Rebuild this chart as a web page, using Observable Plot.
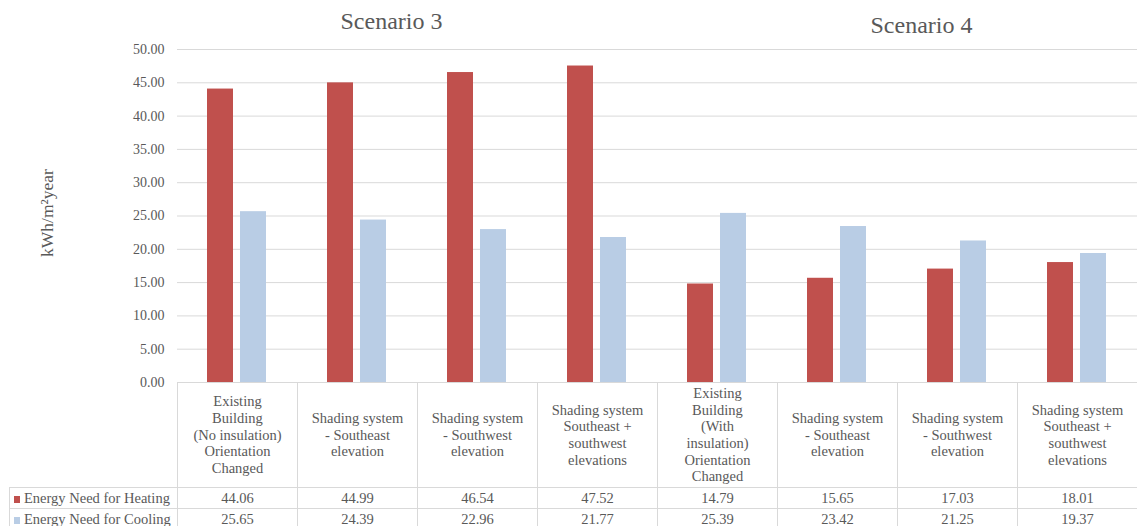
<!DOCTYPE html>
<html><head><meta charset="utf-8">
<script src="https://cdn.jsdelivr.net/npm/d3@7"></script>
<script src="https://cdn.jsdelivr.net/npm/@observablehq/plot@0.6"></script>
<style>
html,body{margin:0;padding:0;background:#fff;overflow:hidden;}
#wrap{position:relative;width:1137px;height:526px;overflow:hidden;font-family:"Liberation Serif","Times New Roman","DejaVu Serif",serif;color:#595959;}
#wrap svg{position:absolute;left:0;top:0;}
table{position:absolute;border-collapse:collapse;table-layout:fixed;font-size:14.5px;font-family:"Liberation Serif","Times New Roman","DejaVu Serif",serif;color:#595959;}
td{border:1px solid #d9d9d9;padding:0;text-align:center;white-space:pre-line;line-height:16.7px;overflow:hidden;}
td.blank{border-top:none;border-left:none;}
td.leg{text-align:left;white-space:nowrap;padding-left:4px;}
.key{display:inline-block;width:6px;height:7px;margin-right:4px;vertical-align:0px;}
#ylab{position:absolute;left:47px;top:213px;transform:translate(-50%,-50%) rotate(-90deg);white-space:nowrap;font-size:17.5px;}
</style></head><body><div id="wrap"></div>
<script>
const categories = [
  "Existing\nBuilding\n(No insulation)\nOrientation\nChanged",
  "Shading system\n- Southeast\nelevation",
  "Shading system\n- Southwest\nelevation",
  "Shading system\nSoutheast +\nsouthwest\nelevations",
  "Existing\nBuilding\n(With\ninsulation)\nOrientation\nChanged",
  "Shading system \n- Southeast\nelevation",
  "Shading system \n- Southwest\nelevation",
  "Shading system \nSoutheast +\nsouthwest\nelevations"
];
const heating = [44.06, 44.99, 46.54, 47.52, 14.79, 15.65, 17.03, 18.01];
const cooling = [25.65, 24.39, 22.96, 21.77, 25.39, 23.42, 21.25, 19.37];
const seriesNames = ["Energy Need for Heating", "Energy Need for Cooling"];
const seriesColors = ["#C0504D", "#B9CDE5"];
const yTicks = [0, 5, 10, 15, 20, 25, 30, 35, 40, 45, 50];
const scenarioLabels = ["Scenario 3", "Scenario 4"];
const yLabel = "kWh/m²year";

const serifFont = "'Liberation Serif', 'Times New Roman', 'DejaVu Serif', serif";
const seriesValues = [heating, cooling];
const data = categories.flatMap((c, i) => seriesNames.map((s, k) => ({category: c, series: s, value: seriesValues[k][i]})));

const plot = Plot.plot({
  width: 1137, height: 383,
  marginTop: 49, marginBottom: 1, marginLeft: 176, marginRight: 0,
  style: {fontFamily: serifFont, color: "#595959", background: "transparent", overflow: "visible"},
  fx: {domain: categories, padding: 0, axis: null},
  x: {domain: seriesNames, paddingInner: 0.206, paddingOuter: 0.869, axis: null},
  y: {domain: [0, 50], axis: null},
  color: {domain: seriesNames, range: seriesColors},
  marks: [
    Plot.gridY(yTicks, {stroke: "#d9d9d9", strokeOpacity: 1}),
    Plot.axisY(yTicks, {tickSize: 0, tickPadding: 13, tickFormat: d => d.toFixed(2), fontSize: 14, fontFamily: serifFont, label: null}),
    Plot.barY(data, {fx: "category", x: "series", y: "value", fill: "series"}),
    Plot.text([{label: scenarioLabels[0], category: categories[1]}], {fx: "category", text: "label", frameAnchor: "top", dx: 34, dy: -21, lineAnchor: "bottom", fontSize: 24, fontFamily: serifFont}),
    Plot.text([{label: scenarioLabels[1], category: categories[6]}], {fx: "category", text: "label", frameAnchor: "top", dx: -36, dy: -17, lineAnchor: "bottom", fontSize: 24, fontFamily: serifFont})
  ]
});
const wrap = document.getElementById("wrap");
wrap.appendChild(plot);

const ylab = document.createElement("div");
ylab.id = "ylab"; ylab.textContent = yLabel;
wrap.appendChild(ylab);

// data table aligned to the facet scale
const fx = plot.scale("fx");
const bw = fx.bandwidth;
const x0 = fx.apply(categories[0]);
const tableLeft = 9;
const table = document.createElement("table");
table.style.left = tableLeft + "px";
table.style.top = "382px";
table.style.width = (x0 - tableLeft + bw * categories.length) + "px";
const cg = document.createElement("colgroup");
[x0 - tableLeft, ...categories.map(() => bw)].forEach(w => {
  const col = document.createElement("col"); col.style.width = w + "px"; cg.appendChild(col);
});
table.appendChild(cg);
const hr = document.createElement("tr"); hr.style.height = "105px";
const blank = document.createElement("td"); blank.className = "blank"; hr.appendChild(blank);
categories.forEach(c => { const td = document.createElement("td"); td.textContent = c.replace(/ \n/g, "\n"); hr.appendChild(td); });
table.appendChild(hr);
seriesNames.forEach((s, k) => {
  const tr = document.createElement("tr"); tr.style.height = "21px";
  const lt = document.createElement("td"); lt.className = "leg";
  const key = document.createElement("span"); key.className = "key"; key.style.background = seriesColors[k];
  lt.appendChild(key); lt.appendChild(document.createTextNode(s));
  tr.appendChild(lt);
  seriesValues[k].forEach(v => { const td = document.createElement("td"); td.textContent = v.toFixed(2); tr.appendChild(td); });
  table.appendChild(tr);
});
wrap.appendChild(table);
</script>
</body></html>
